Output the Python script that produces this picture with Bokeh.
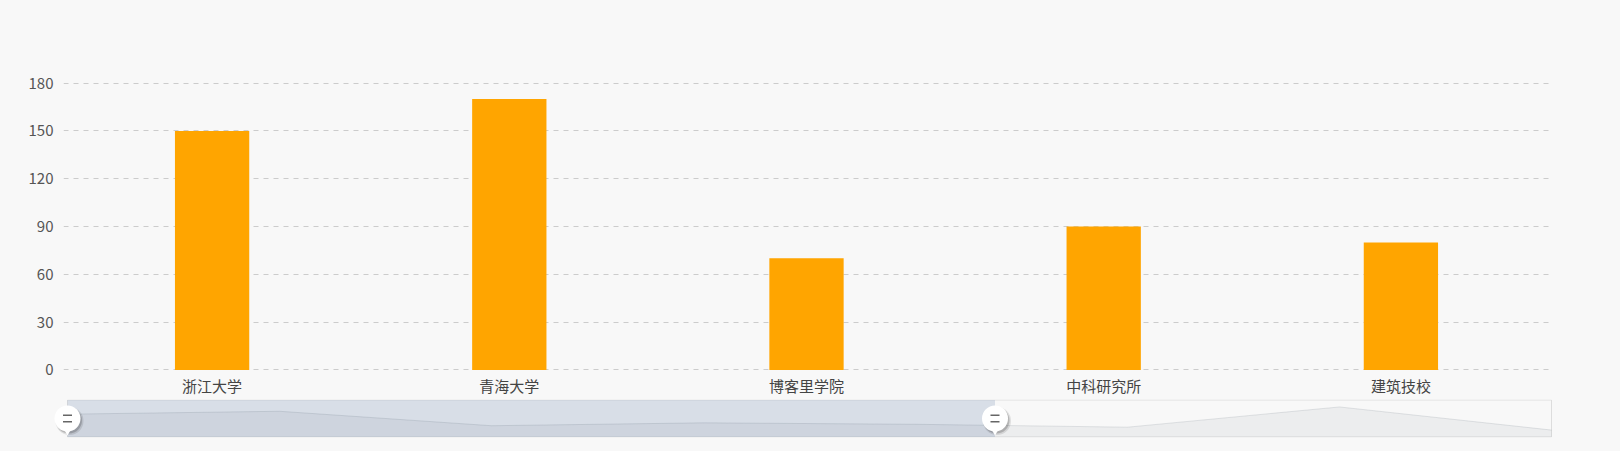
from bokeh.plotting import figure
from bokeh.models import Range1d, FactorRange
from bokeh.layouts import column
from bokeh.embed import file_html
from bokeh.resources import INLINE

# ---- data ----
categories = ["浙江大学", "青海大学", "博客里学院", "中科研究所", "建筑技校"]
values = [150, 170, 70, 90, 80]
# full series as seen in the zoom slider's data shadow (first 5 in view)
all_values = [150, 170, 70, 90, 80, 60, 200, 40]
y_ticks = [0, 30, 60, 90, 120, 150, 180]

BG = "#f8f8f8"
FONT = "Noto Sans CJK SC"
W = 1620

# ---- main chart ----
p = figure(
    x_range=FactorRange(*categories, range_padding=0),
    y_range=Range1d(-1, 181),
    width=W, height=399,
    output_backend="svg", toolbar_location=None,
    min_border_left=63, min_border_right=71,
    min_border_top=81, min_border_bottom=28,
    background_fill_color=BG, border_fill_color=BG,
    outline_line_color=None,
)
p.frame_align = False
p.vbar(x=categories, top=values, bottom=0, width=0.25,
       fill_color="#FFA500", line_color=None)

p.xgrid.grid_line_color = None
p.ygrid.ticker = y_ticks
p.ygrid.grid_line_color = "#cccccc"
p.ygrid.grid_line_dash = "5 5"
p.ygrid.grid_line_width = 1

p.yaxis.ticker = y_ticks
for ax in (p.xaxis[0], p.yaxis[0]):
    ax.axis_line_color = None
    ax.major_tick_line_color = None
    ax.minor_tick_line_color = None
    ax.major_tick_out = 0
    ax.major_tick_in = 0
    ax.minor_tick_out = 0
    ax.major_label_text_font = FONT
    ax.major_label_text_font_size = "15px"
p.yaxis.major_label_text_color = "#555555"
p.xaxis.major_label_text_color = "#444444"
p.yaxis.major_label_standoff = 10
p.xaxis.major_label_standoff = 3

# ---- data zoom slider ----
n = len(all_values)
xs = list(range(n))
vmin, vmax = min(all_values), max(all_values)
pad = (vmax - vmin) * 0.3
lo, hi = vmin - pad, vmax + pad
sel_end = (n - 1) * len(categories) / n
SH = 37      # slider box height in px
SWID = 1484  # slider box width in px
ux = (n - 1) / SWID      # data units per px (x)
uy = (hi - lo) / SH      # data units per px (y)
EXT = 20                 # extra px left/right so handles are not clipped

s = figure(
    x_range=Range1d(-EXT * ux, (n - 1) + EXT * ux),
    y_range=Range1d(lo - 0.5 * uy, hi + 0.5 * uy),
    width=W, height=52,
    output_backend="svg", toolbar_location=None,
    x_axis_location=None, y_axis_location=None,
    min_border_left=67 - EXT, min_border_right=69 - EXT,
    min_border_top=0, min_border_bottom=14,
    background_fill_color=BG, border_fill_color=BG,
    outline_line_color=None,
)
s.frame_align = False
s.xgrid.grid_line_color = None
s.ygrid.grid_line_color = None

# slider box border
s.quad(left=0, right=n - 1, bottom=lo, top=hi,
       fill_color=None, line_color="#dddddd", line_width=1)
# selected window
s.quad(left=0, right=sel_end, bottom=lo, top=hi,
       fill_color="#a7b7cc", fill_alpha=0.4, line_color=None)
# data shadow
s.varea(x=xs, y1=[lo] * n, y2=all_values,
        fill_color="#2f4554", fill_alpha=0.06)
s.line(xs, all_values, line_color="#2f4554", line_alpha=0.12, line_width=1)

ymid = (lo + hi) / 2
for hx in (0, sel_end):
    # soft shadow
    s.circle(x=hx + 2 * ux, y=ymid - 2.5 * uy, radius=14, radius_units="screen",
             fill_color="#000000", fill_alpha=0.10, line_color=None)
    s.circle(x=hx + 1.5 * ux, y=ymid - 2 * uy, radius=13, radius_units="screen",
             fill_color="#000000", fill_alpha=0.18, line_color=None)
    s.scatter(x=hx, y=ymid - 13.5 * uy, marker="inverted_triangle", size=6,
              fill_color="#ffffff", line_color=None)
    s.circle(x=hx, y=ymid, radius=13, radius_units="screen",
             fill_color="#ffffff", line_color=None)
    s.scatter(x=[hx, hx], y=[ymid + 3.3 * uy, ymid - 3.3 * uy], marker="dash",
              size=9, line_color="#666666", line_width=1.5)

layout = column(p, s, spacing=0)
html = file_html(layout, INLINE)
html = html.replace("</head>", "<style>body{background:#f8f8f8;}</style></head>", 1)
with open("out.html", "w", encoding="utf-8") as f:
    f.write(html)
